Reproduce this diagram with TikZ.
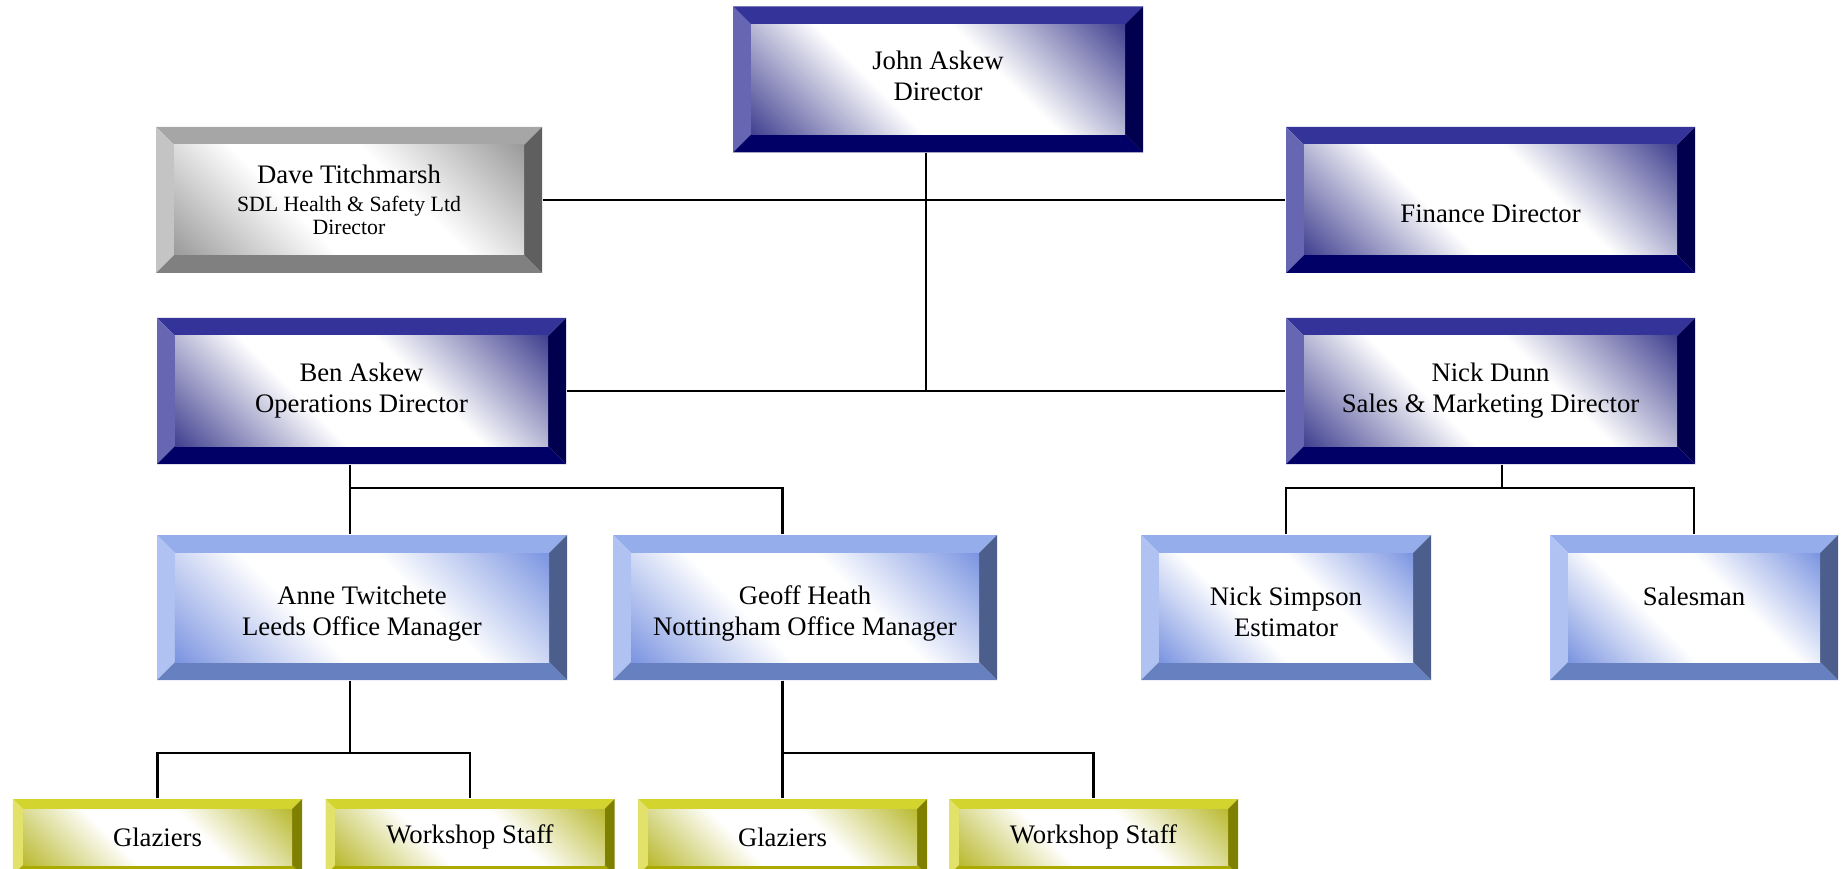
\documentclass[tikz,border=0pt]{standalone}
\usepackage{fontspec}
\setmainfont{Liberation Serif}
\usepackage{xcolor}
\usepackage{tikz}
\usetikzlibrary{positioning}

\definecolor{dirtop}{HTML}{333399}
\definecolor{dirleft}{HTML}{6666B3}
\definecolor{dirbottom}{HTML}{000066}
\definecolor{dirright}{HTML}{00004F}
\definecolor{dircorner}{HTML}{3C3C8E}
\definecolor{exttop}{HTML}{A6A6A6}
\definecolor{extleft}{HTML}{C4C4C4}
\definecolor{extbottom}{HTML}{808080}
\definecolor{extright}{HTML}{5F5F5F}
\definecolor{extcorner}{HTML}{989898}
\definecolor{mgrtop}{HTML}{95AEEB}
\definecolor{mgrleft}{HTML}{AFC2F2}
\definecolor{mgrbottom}{HTML}{6680C0}
\definecolor{mgrright}{HTML}{4B5E8C}
\definecolor{mgrcorner}{HTML}{7892E0}
\definecolor{stafftop}{HTML}{D4D42E}
\definecolor{staffleft}{HTML}{E2E26A}
\definecolor{staffbottom}{HTML}{AAAA00}
\definecolor{staffright}{HTML}{808000}
\definecolor{staffcorner}{HTML}{B8B82C}

% corner-to-corner shading, white in the middle
\pgfdeclareverticalshading{dirshade}{100bp}{color(0bp)=(dircorner); color(14bp)=(dircorner); color(40bp)=(white); color(60bp)=(white); color(86bp)=(dircorner); color(100bp)=(dircorner)}
\pgfdeclareverticalshading{extshade}{100bp}{color(0bp)=(extcorner); color(14bp)=(extcorner); color(40bp)=(white); color(60bp)=(white); color(86bp)=(extcorner); color(100bp)=(extcorner)}
\pgfdeclareverticalshading{mgrshade}{100bp}{color(0bp)=(mgrcorner); color(14bp)=(mgrcorner); color(40bp)=(white); color(60bp)=(white); color(86bp)=(mgrcorner); color(100bp)=(mgrcorner)}
\pgfdeclareverticalshading{staffshade}{100bp}{color(0bp)=(staffcorner); color(14bp)=(staffcorner); color(40bp)=(white); color(60bp)=(white); color(86bp)=(staffcorner); color(100bp)=(staffcorner)}

\newcommand\subline{\fontsize{6.2}{7}\selectfont}
\newcommand\lift[1]{\rule{0pt}{#1}}

\begin{document}
\begin{tikzpicture}
                \tikzset{
                  bevel/.style n args={6}{rectangle, inner sep=0pt, align=center,
                    font=\fontsize{7.6}{8.8}\selectfont,
                    path picture={
                      \path (path picture bounding box.north west) coordinate (o1)
                            (path picture bounding box.south east) coordinate (o3);
                      \path ([shift={(#6,-#6)}]o1) coordinate (i1)
                            ([shift={(-#6,#6)}]o3) coordinate (i3);
                      \fill[#1] (o1) -- (o1 -| o3) -- (i1 -| i3) -- (i1) -- cycle;
                      \fill[#2] (o1) -- (i1) -- (i1 |- i3) -- (o1 |- o3) -- cycle;
                      \fill[#3] (o1 |- o3) -- (i1 |- i3) -- (i3) -- (o3) -- cycle;
                      \fill[#4] (o3) -- (i3) -- (i1 -| i3) -- (o1 -| o3) -- cycle;
                      \shade[shading=#5, shading angle=-45] (i1) rectangle (i3);
                    }},
                  director/.style={bevel={dirtop}{dirleft}{dirbottom}{dirright}{dirshade}{0.18}, minimum width=4.09cm, minimum height=1.46cm},
                  external/.style={bevel={exttop}{extleft}{extbottom}{extright}{extshade}{0.18}, minimum width=3.86cm, minimum height=1.46cm},
                  manager/.style={bevel={mgrtop}{mgrleft}{mgrbottom}{mgrright}{mgrshade}{0.18}, minimum height=1.45cm},
                  staff/.style={bevel={stafftop}{staffleft}{staffbottom}{staffright}{staffshade}{0.10}, minimum width=2.89cm, minimum height=0.76cm},
                  link/.style={line width=0.6pt}
                }
                \useasboundingbox (0,0) rectangle (18.41,-8.69);

                \node [director, minimum width=4.1cm] (john) at (9.38,-0.795) {John Askew\\Director\rule[-2pt]{0pt}{2pt}};
                \node [external] (dave) at (3.49,-2.0) {Dave Titchmarsh\\[-0.7pt]\subline SDL Health \& Safety Ltd\\[-2.3pt]\subline Director};
                \node [director] (finance) at (14.905,-2.0) {\mbox{}\\[4.2pt]Finance Director};
                \node [director] (ben) at (3.615,-3.91) {Ben Askew\\Operations Director};
                \node [director] (dunn) at (14.905,-3.91) {Nick Dunn\\Sales \& Marketing Director};
                \node [manager, minimum width=4.1cm] (anne) at (3.62,-6.075) {\lift{9pt}Anne Twitchete\\Leeds Office Manager};
                \node [manager, minimum width=3.84cm] (geoff) at (8.05,-6.075) {\lift{9pt}Geoff Heath\\Nottingham Office Manager};
                \node [manager, minimum width=2.9cm] (simpson) at (12.86,-6.075) {\lift{7.5pt}Nick Simpson\\Estimator};
                \node [manager, minimum width=2.88cm] (salesman) at (16.94,-6.075) {\lift{7.5pt}Salesman\\\mbox{}};
                \node [staff] (glaz-leeds) at (1.575,-8.37) {Glaziers};
                \node [staff] (shop-leeds) at (4.70,-8.37) {Workshop Staff};
                \node [staff] (glaz-notts) at (7.825,-8.37) {Glaziers};
                \node [staff] (shop-notts) at (10.935,-8.37) {Workshop Staff};

                \coordinate (trunk) at ([xshift=-0.12cm]john.south |- ben.east);
                \coordinate (ben-fork) at ([xshift=-0.115cm,yshift=-0.235cm]ben.south);
                \coordinate (dunn-fork) at ([xshift=0.115cm,yshift=-0.235cm]dunn.south);
                \coordinate (anne-fork) at ([xshift=-0.12cm,yshift=-0.72cm]anne.south);
                \coordinate (geoff-fork) at ([xshift=-0.225cm,yshift=-0.72cm]geoff.south);

                \draw [link] (dave.east) -- (finance.west);
                \draw [link] (ben.east) -- (dunn.west);
                \draw [link] (john.south -| trunk) -- (trunk);
                \draw [link] (ben.south -| ben-fork) -- (anne.north -| ben-fork);
                \draw [link] (ben-fork) -| ([xshift=-0.225cm]geoff.north);
                \draw [link] (dunn.south -| dunn-fork) -- (dunn-fork);
                \draw [link] (simpson.north) |- (dunn-fork) -| (salesman.north);
                \draw [link] (anne.south -| anne-fork) -- (anne-fork);
                \draw [link] (glaz-leeds.north) |- (anne-fork) -| (shop-leeds.north);
                \draw [link] (geoff.south -| geoff-fork) -- (glaz-notts.north -| geoff-fork);
                \draw [link] (geoff-fork) -| (shop-notts.north);
\end{tikzpicture}
\end{document}
